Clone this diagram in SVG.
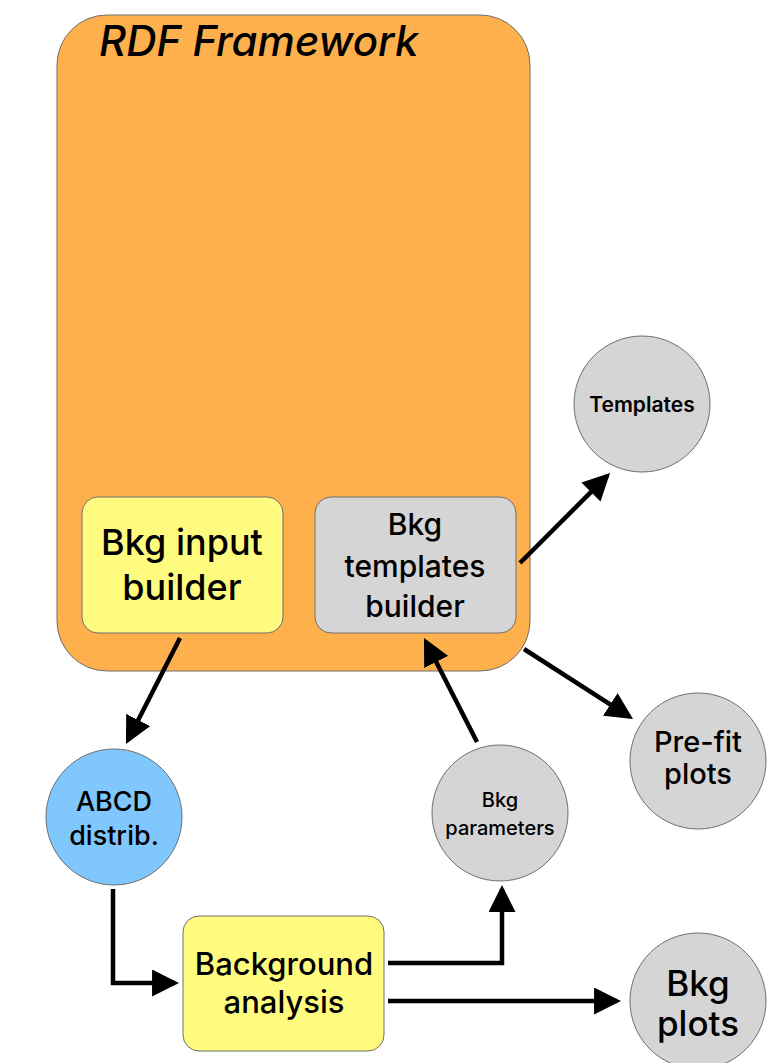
<svg xmlns="http://www.w3.org/2000/svg" width="767" height="1063" viewBox="0 0 767 1063">
<style>
  .node { stroke: #6e6e6e; stroke-width: 1; }
  .yellow { fill: #FFFB7F; }
  .gray { fill: #D5D5D5; }
  .blue { fill: #80C7FD; }
  .orange { fill: #FDB04C; }
  text { font-family: Inter, "Liberation Sans", Arial, Helvetica, sans-serif; font-weight: 500; fill: #000; text-anchor: middle; }
  .conn { fill: none; stroke: #000; stroke-width: 4.5; }
</style>
<defs>
  <marker id="arrow" viewBox="0 0 10 10" markerWidth="6" markerHeight="6" refX="8.5" refY="5" orient="auto" markerUnits="strokeWidth">
    <polygon points="0,0 10,5 0,10" fill="#000"/>
  </marker>
</defs>
<rect width="767" height="1063" fill="#fff"/>

<g id="rdf-framework">
  <rect class="node orange" x="57" y="15" width="473" height="656" rx="50" ry="50"/>
  <text x="99" y="56" style="font-size:42px;font-style:italic;text-anchor:start">RDF Framework</text>
</g>

<g id="bkg-input-builder">
  <rect class="node yellow" x="82" y="497" width="201" height="136" rx="16" ry="16"/>
  <text x="182" y="555" style="font-size:36px">Bkg input</text>
  <text x="182" y="600" style="font-size:36px">builder</text>
</g>

<g id="bkg-templates-builder">
  <rect class="node gray" x="315" y="497" width="201" height="136" rx="16" ry="16"/>
  <text x="415" y="535" style="font-size:30px">Bkg</text>
  <text x="415" y="577" style="font-size:30px">templates</text>
  <text x="415" y="617" style="font-size:30px">builder</text>
</g>

<g id="templates">
  <circle class="node gray" cx="642" cy="404" r="68"/>
  <text x="642" y="412" style="font-size:21px;font-weight:600">Templates</text>
</g>

<g id="pre-fit-plots">
  <circle class="node gray" cx="698" cy="761" r="68"/>
  <text x="698" y="752" style="font-size:29px">Pre-fit</text>
  <text x="698" y="784" style="font-size:29px">plots</text>
</g>

<g id="abcd-distrib">
  <circle class="node blue" cx="114" cy="817" r="68"/>
  <text x="114" y="811" style="font-size:27px">ABCD</text>
  <text x="114" y="845" style="font-size:27px">distrib.</text>
</g>

<g id="bkg-parameters">
  <circle class="node gray" cx="500" cy="813" r="68"/>
  <text x="500" y="807" style="font-size:20px">Bkg</text>
  <text x="500" y="835" style="font-size:20px">parameters</text>
</g>

<g id="background-analysis">
  <rect class="node yellow" x="183" y="916" width="201" height="135" rx="16" ry="16"/>
  <text x="284" y="975" style="font-size:31px">Background</text>
  <text x="284" y="1013" style="font-size:31px">analysis</text>
</g>

<g id="bkg-plots">
  <circle class="node gray" cx="698" cy="1001" r="68"/>
  <text x="698" y="996" style="font-size:35px">Bkg</text>
  <text x="698" y="1036" style="font-size:35px">plots</text>
</g>

<g id="connectors">
  <path class="conn" d="M180 638 L127.8 740.4" marker-end="url(#arrow)"/>
  <path class="conn" d="M113 889 V983 H175" marker-end="url(#arrow)"/>
  <path class="conn" d="M388 963 H502 V889" marker-end="url(#arrow)"/>
  <path class="conn" d="M388 1001 H617" marker-end="url(#arrow)"/>
  <path class="conn" d="M477 742 L425.8 641.6" marker-end="url(#arrow)"/>
  <path class="conn" d="M520 563 L607.2 475.8" marker-end="url(#arrow)"/>
  <path class="conn" d="M524 649 L629.6 716.8" marker-end="url(#arrow)"/>
</g>
</svg>
